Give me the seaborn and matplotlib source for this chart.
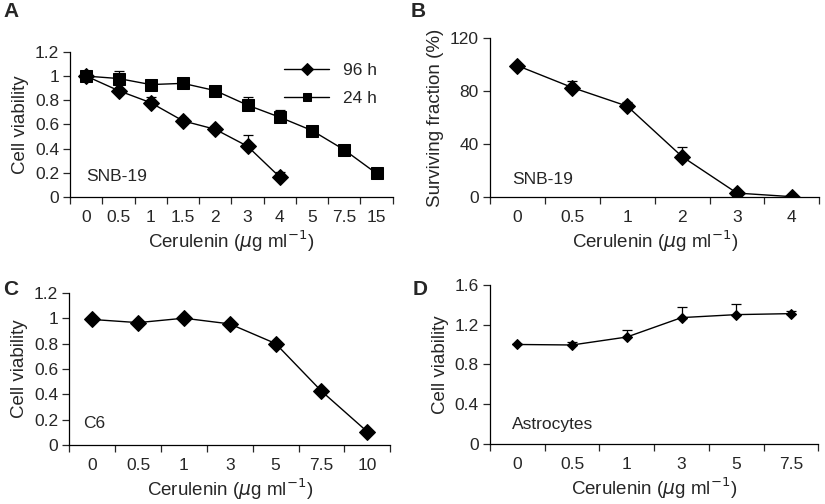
import numpy as np
import matplotlib
matplotlib.use('Agg')
import matplotlib.pyplot as plt
import seaborn as sns

# panel A: SNB-19, two time points
doses_a = ['0', '0.5', '1', '1.5', '2', '3', '4', '5', '7.5', '15']
via_96h = [1.0, 0.88, 0.78, 0.63, 0.56, 0.42, 0.165]
err_96h = [0.0, 0.01, 0.045, 0.02, 0.03, 0.09, 0.045]
via_24h = [1.0, 0.98, 0.93, 0.94, 0.88, 0.76, 0.66, 0.55, 0.39, 0.195]
err_24h = [0.0, 0.065, 0.01, 0.01, 0.025, 0.065, 0.06, 0.025, 0.03, 0.0]

# panel B: SNB-19 surviving fraction
doses_b = ['0', '0.5', '1', '2', '3', '4']
surv_b = [99, 82.5, 68.5, 30.5, 3, 0.3]
err_b = [0, 5, 3, 7, 0, 0]

# panel C: C6
doses_c = ['0', '0.5', '1', '3', '5', '7.5', '10']
via_c = [0.99, 0.965, 1.0, 0.955, 0.80, 0.425, 0.105]

# panel D: astrocytes
doses_d = ['0', '0.5', '1', '3', '5', '7.5']
via_d = [1.0, 0.995, 1.075, 1.27, 1.30, 1.31]
err_d = [0, 0.03, 0.075, 0.105, 0.105, 0.03]

sns.set_style('ticks')
plt.rcParams['font.family'] = ['Liberation Sans', 'DejaVu Sans']
plt.rcParams['mathtext.fontset'] = 'dejavusans'

xlab = r'Cerulenin ($\mu$g ml$^{-1}$)'
TICK = 12.5
LAB = 13.5


def series(ax, y, err, marker, ms, label=None):
    x = np.arange(len(y))
    if err is not None:
        ax.errorbar(x, y, yerr=[np.zeros(len(err)), err], fmt='none',
                    ecolor='black', elinewidth=0.9, capsize=3.5, capthick=0.9, zorder=1)
    sns.lineplot(x=x, y=y, ax=ax, color='black', marker=marker, markersize=ms,
                 markeredgecolor='black', linewidth=1.0, label=label, zorder=2)


def style(ax, cats, ymax, yticks, yticklabels, ylabel):
    n = len(cats)
    ax.set_xlim(-0.5, n - 0.5)
    ax.set_ylim(0, ymax)
    ax.set_xticks(np.arange(n + 1) - 0.5)
    ax.set_xticklabels([])
    ax.set_xticks(np.arange(n), minor=True)
    ax.set_xticklabels(cats, minor=True, fontsize=TICK)
    ax.tick_params(axis='x', which='minor', length=0, pad=9)
    ax.tick_params(axis='x', which='major', length=5, width=0.9, direction='out')
    ax.set_yticks(yticks)
    ax.set_yticklabels(yticklabels, fontsize=TICK)
    ax.tick_params(axis='y', length=5, width=0.9, direction='out', pad=3)
    ax.set_xlabel(xlab, fontsize=LAB, labelpad=3)
    ax.set_ylabel(ylabel, fontsize=LAB, labelpad=4)
    sns.despine(ax=ax)
    for s in ('left', 'bottom'):
        ax.spines[s].set_linewidth(0.9)
        ax.spines[s].set_color('black')


fig = plt.figure(figsize=(8.25, 5.04), dpi=100)
axA = fig.add_axes([0.085, 0.609, 0.391, 0.288])
axB = fig.add_axes([0.594, 0.609, 0.399, 0.316])
axC = fig.add_axes([0.084, 0.117, 0.389, 0.302])
axD = fig.add_axes([0.594, 0.119, 0.398, 0.316])

# A
series(axA, via_96h, err_96h, 'D', 8, '96 h')
series(axA, via_24h, err_24h, 's', 8, '24 h')
style(axA, doses_a, 1.2, [0, 0.2, 0.4, 0.6, 0.8, 1, 1.2],
      ['0', '0.2', '0.4', '0.6', '0.8', '1', '1.2'], 'Cell viability')
leg = axA.legend(loc='upper right', bbox_to_anchor=(1.0, 1.03), frameon=False,
                 fontsize=TICK, handlelength=2.6, labelspacing=0.7, markerscale=0.8)
axA.text(0, 0.17, 'SNB-19', fontsize=TICK, va='center', ha='left')

# B
series(axB, surv_b, err_b, 'D', 8.5, None)
style(axB, doses_b, 120, [0, 40, 80, 120], ['0', '40', '80', '120'],
      'Surviving fraction (%)')
axB.text(-0.1, 13, 'SNB-19', fontsize=TICK, va='center', ha='left')

# C
series(axC, via_c, None, 'D', 8.5, None)
style(axC, doses_c, 1.2, [0, 0.2, 0.4, 0.6, 0.8, 1, 1.2],
      ['0', '0.2', '0.4', '0.6', '0.8', '1', '1.2'], 'Cell viability')
axC.text(-0.2, 0.166, 'C6', fontsize=TICK, va='center', ha='left')

# D
series(axD, via_d, err_d, 'D', 5.5, None)
style(axD, doses_d, 1.6, [0, 0.4, 0.8, 1.2, 1.6], ['0', '0.4', '0.8', '1.2', '1.6'],
      'Cell viability')
axD.text(-0.1, 0.2, 'Astrocytes', fontsize=TICK, va='center', ha='left')

for lab, x, y in [('A', 0.004, 0.997), ('B', 0.498, 0.997),
                  ('C', 0.004, 0.445), ('D', 0.500, 0.445)]:
    fig.text(x, y, lab, fontsize=15, fontweight='bold', va='top', ha='left')

fig.savefig('out.png', dpi=100)
